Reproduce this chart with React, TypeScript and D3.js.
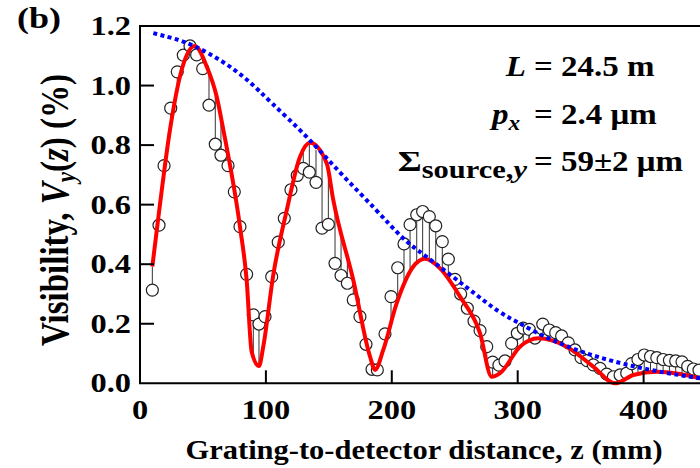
import React from "react";
import * as d3 from "d3";

// measured visibility points [z (mm), V (%)]
const measured: [number, number][] = [
  [9.8, 0.313], [15.1, 0.531], [19.1, 0.731], [24.4, 0.924], [29.6, 1.046], [34.4, 1.102],
  [39.7, 1.133], [45.0, 1.103], [49.8, 1.057], [54.8, 0.934], [59.8, 0.803], [64.3, 0.766],
  [69.9, 0.731], [74.9, 0.643], [79.4, 0.526], [84.7, 0.366], [90.0, 0.23], [94.5, 0.199],
  [99.3, 0.224], [104.6, 0.358], [109.8, 0.474], [114.6, 0.554], [119.9, 0.65], [124.9, 0.698],
  [129.7, 0.722], [134.5, 0.709], [139.8, 0.675], [144.6, 0.521], [149.6, 0.534], [154.9, 0.403],
  [159.7, 0.362], [164.7, 0.336], [169.4, 0.28], [174.7, 0.224], [179.5, 0.131], [184.3, 0.047],
  [188.5, 0.045], [194.6, 0.166], [199.4, 0.291], [204.7, 0.388], [209.7, 0.468], [214.5, 0.533],
  [219.8, 0.566], [224.5, 0.577], [229.8, 0.56], [234.9, 0.529], [240.1, 0.476], [244.9, 0.417],
  [250.2, 0.349], [254.7, 0.3], [260.0, 0.252], [265.3, 0.209], [270.1, 0.177], [275.4, 0.123],
  [280.1, 0.071], [285.1, 0.061], [289.9, 0.075], [295.2, 0.134], [299.7, 0.168], [304.4, 0.185],
  [309.2, 0.181], [313.7, 0.152], [319.9, 0.199], [325.1, 0.179], [330.2, 0.17], [334.9, 0.159],
  [340.2, 0.136], [345.5, 0.112], [350.3, 0.086], [355.0, 0.076], [360.0, 0.062], [365.4, 0.05],
  [370.7, 0.031], [376.0, 0.022], [381.3, 0.028], [386.6, 0.034], [390.5, 0.066], [395.5, 0.08],
  [400.5, 0.095], [405.5, 0.09], [410.5, 0.086], [415.5, 0.08], [420.5, 0.077], [425.5, 0.075],
  [430.5, 0.072], [435.0, 0.057], [439.5, 0.048], [444.0, 0.044],
];

// fitted model (red)
const fitCurve: [number, number][] = [
  [9.8, 0.392], [15.3, 0.582], [23.8, 0.851], [33.1, 1.053], [43.5, 1.133], [53.0, 1.064],
  [60.9, 0.963], [66.2, 0.851], [79.4, 0.526], [84.7, 0.347], [88.7, 0.106], [94.5, 0.058],
  [97.9, 0.123], [105.9, 0.365], [116.5, 0.58], [127.1, 0.761], [135.0, 0.808], [148.3, 0.739],
  [153.5, 0.616], [169.4, 0.347], [182.7, 0.09], [186.7, 0.045], [193.2, 0.112], [203.9, 0.269],
  [217.1, 0.392], [226.4, 0.418], [238.3, 0.386], [254.2, 0.291], [270.1, 0.168], [279.3, 0.022],
  [286.0, 0.034], [301.8, 0.123], [316.4, 0.151], [338.9, 0.123], [360.0, 0.056], [377.3, 0.0],
  [391.8, 0.028], [410.4, 0.039], [428.9, 0.031], [444.8, 0.017],
];

// envelope (blue dotted)
const envelope: [number, number][] = [
  [10.6, 1.176], [26.5, 1.159], [42.3, 1.137], [66.2, 1.081], [86.0, 1.019], [103.3, 0.946],
  [132.4, 0.831], [158.9, 0.706], [187.9, 0.582], [209.1, 0.482], [222.4, 0.442], [262.1, 0.314],
  [285.9, 0.235], [301.8, 0.202], [317.7, 0.162], [352.1, 0.1], [391.8, 0.056], [418.3, 0.034],
  [444.8, 0.017],
];

const xTicks = [0, 100, 200, 300, 400];
const yTicks = [0, 0.2, 0.4, 0.6, 0.8, 1.0, 1.2];

const FONT = "'Liberation Serif', 'Times New Roman', serif";

const W = 700;
const H = 468;

const x = d3.scaleLinear().domain([0, 444.8]).range([140, 700]);
const y = d3.scaleLinear().domain([0, 1.2]).range([383.3, 26]);

const bis = d3.bisector((d: [number, number]) => d[0]).left;
function fitAt(z: number) {
  const i = Math.min(Math.max(bis(fitCurve, z), 1), fitCurve.length - 1);
  const a = fitCurve[i - 1];
  const b = fitCurve[i];
  const t = (z - a[0]) / (b[0] - a[0]);
  return a[1] + (b[1] - a[1]) * t;
}

// text in the figure is stretched horizontally, hence the sx factor
const Txt = ({ x0, y0, size, anchor = "start", sx = 1.2, children }: any) => (
  <text
    transform={`translate(${x0},${y0}) scale(${sx},1)`}
    fontSize={size}
    textAnchor={anchor}
    fontFamily={FONT}
    fontWeight="bold"
    fill="#000"
  >
    {children}
  </text>
);

export default function App() {
  const redLine = d3
    .line<[number, number]>()
    .x((d) => x(d[0]))
    .y((d) => y(d[1]))
    .curve(d3.curveMonotoneX);
  const blueLine = d3
    .line<[number, number]>()
    .x((d) => x(d[0]))
    .y((d) => y(d[1]))
    .curve(d3.curveBasis);

  const x0 = x(0);
  const yBase = y(0);
  const yTop = y(1.2);

  return (
    <svg
      width={W}
      height={H}
      style={{ position: "absolute", left: 0, top: 0, background: "#fff" }}
    >
      {/* stems from data to fit */}
      <g stroke="#333" strokeWidth={1}>
        {measured.map((d, i) => (
          <line key={i} x1={x(d[0])} x2={x(d[0])} y1={y(d[1])} y2={y(fitAt(d[0]))} />
        ))}
      </g>
      <g fill="#fff" stroke="#222" strokeWidth={1.2}>
        {measured.map((d, i) => (
          <circle key={i} cx={x(d[0])} cy={y(d[1])} r={6} />
        ))}
      </g>
      <path d={redLine(fitCurve) || ""} fill="none" stroke="#ff0000" strokeWidth={4} strokeLinejoin="round" />
      <path d={blueLine(envelope) || ""} fill="none" stroke="#0000ff" strokeWidth={4} strokeDasharray="4 3.4" />

      {/* frame */}
      <path d={`M${W},${yTop}H${x0}V${yBase}H${W}`} fill="none" stroke="#000" strokeWidth={2} />
      <g stroke="#000" strokeWidth={2}>
        {yTicks.filter((t) => t > 0 && t < 1.2).map((t) => (
          <line key={t} x1={x0} x2={x0 + 14} y1={y(t)} y2={y(t)} />
        ))}
        {xTicks.filter((t) => t > 0).map((t) => (
          <line key={t} x1={x(t)} x2={x(t)} y1={yBase} y2={yBase - 13} />
        ))}
      </g>

      {yTicks.map((t) => (
        <Txt key={t} x0={131} y0={y(t) + 9} size={27} anchor="end">
          {t.toFixed(1)}
        </Txt>
      ))}
      {xTicks.map((t) => (
        <Txt key={t} x0={x(t)} y0={419} size={27} anchor="middle">
          {t}
        </Txt>
      ))}

      <Txt x0={424} y0={459} size={27} anchor="middle" sx={1.13}>
        Grating-to-detector distance, z (mm)
      </Txt>

      <text
        transform="translate(68,210) scale(1.2,1) rotate(-90)"
        fontSize={33}
        textAnchor="middle"
        fontFamily={FONT}
        fontWeight="bold"
      >
        Visibility, <tspan fontStyle="italic">V</tspan>
        <tspan fontStyle="italic" fontSize={23} dy={6}>y</tspan>
        <tspan dy={-6}>(</tspan>
        <tspan fontStyle="italic">z</tspan>) (%)
      </text>

      <Txt x0={17} y0={28} size={30}>(b)</Txt>

      {/* annotation */}
      <Txt x0={526} y0={76} size={30} anchor="end" sx={1.1}>
        <tspan fontStyle="italic">L</tspan>
      </Txt>
      <Txt x0={534} y0={76} size={30} sx={1.1}>= 24.5 m</Txt>

      <Txt x0={520} y0={124} size={30} anchor="end" sx={1.1}>
        <tspan fontStyle="italic">p</tspan>
        <tspan fontStyle="italic" fontSize={21} dy={6}>x</tspan>
      </Txt>
      <Txt x0={534} y0={124} size={30} sx={1.1}>= 2.4 μm</Txt>

      <Txt x0={527} y0={171} size={30} anchor="end" sx={1.22}>
        Σ<tspan fontSize={25} dy={7}>source,</tspan>
        <tspan fontSize={25} fontStyle="italic">y</tspan>
      </Txt>
      <Txt x0={534} y0={171} size={30} sx={1.1}>= 59±2 μm</Txt>
    </svg>
  );
}
